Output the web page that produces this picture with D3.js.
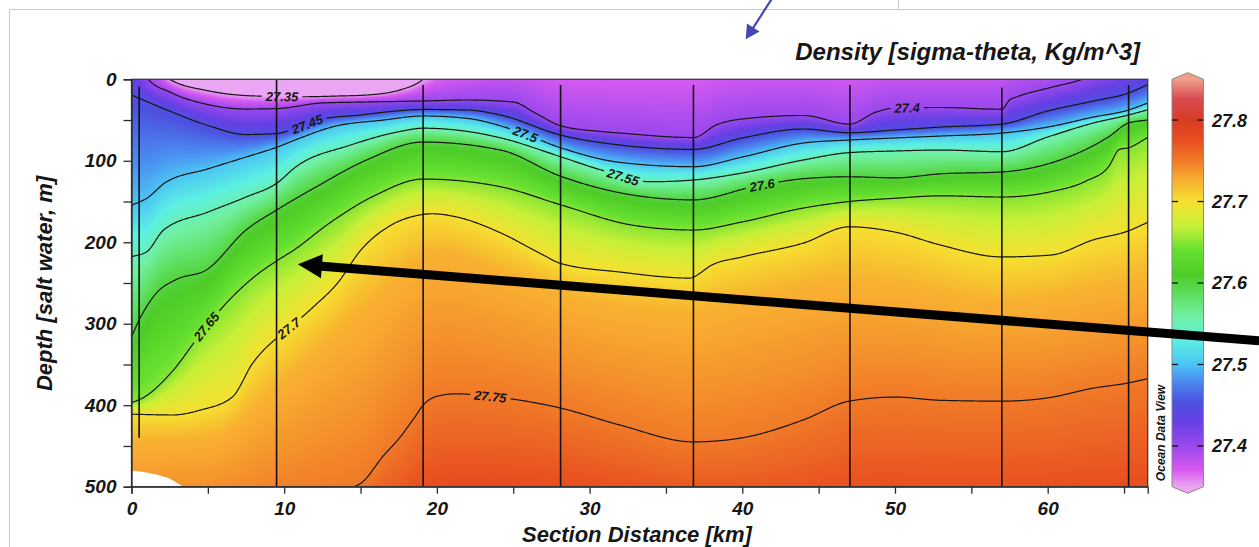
<!DOCTYPE html>
<html>
<head>
<meta charset="utf-8">
<script src="https://cdn.jsdelivr.net/npm/d3@7"></script>
<style>
  html, body { margin: 0; padding: 0; background: #fff; }
  svg { display: block; }
  text { font-family: 'Liberation Sans', Arial, sans-serif; font-weight: bold; font-style: italic; fill: #161616; }
</style>
</head>
<body>
<svg id="chart" width="1259" height="547"></svg>
<script>
// isopycnal depths: [section distance km, depth m]; values above 0 m or below 500 m
// sit outside the section and only shape the gridded field
const sig2730 = [[0, -200], [66.5, -200]];
const sig2735 = [[0, -100], [1.2, -40], [2.5, 0], [5, 14], [7.5, 20], [9.5, 21], [11.4, 21.4], [13.5, 20.5], [15.4, 19.3], [17.6, 13], [18.7, 5], [19.1, 0], [20, -12], [22, -28], [25, -45], [30, -45], [37, -50], [45, -50], [55, -55], [60, -60], [66.5, -90]];
const sig2740 = [[0, -40], [1.1, 0], [2.5, 15.6], [5, 31], [7.5, 36.5], [9.5, 36], [12.5, 29], [15, 28], [19.1, 26.6], [22, 25.4], [25, 27.9], [26.5, 42], [28.1, 57], [30.7, 64], [32, 66], [36.8, 71.5], [38.3, 56], [40, 48.7], [44, 44.4], [47, 55], [48.8, 40], [50, 35.2], [53, 34.6], [57, 36.8], [57.5, 25.4], [58, 21.4], [60, 11], [62.3, 0], [64, -12], [66.5, -30]];
const sig2745 = [[0, 19.3], [2.5, 39], [5, 56.7], [7.5, 67.8], [9.5, 66.5], [11, 58.6], [12.5, 48.7], [15, 43.8], [17, 39.5], [19.1, 37], [22, 37.7], [24.2, 44], [28.1, 68.4], [32, 80.7], [36.8, 86], [40, 72], [44, 61], [47, 65.6], [50, 62.2], [53, 58.6], [57, 54.9], [60, 38.9], [63, 26.6], [65.3, 16.8], [66.5, 7]];
const sig2750 = [[0, 154.6], [1, 146], [2.2, 127], [5, 110], [7.5, 95.4], [9.5, 83.5], [11, 72.4], [13.2, 58.2], [16.5, 50], [19.1, 45], [22, 48], [25, 62], [28.1, 84], [32, 102], [36.8, 107.3], [40, 95.4], [44, 78.2], [47, 74.5], [50, 72], [53, 69.6], [57, 66], [60, 58.6], [63, 46.3], [65.3, 37.7], [66.5, 29.5]];
const sig2755 = [[0, 217.8], [1, 211.7], [2.1, 185], [5, 163], [7.5, 144.5], [9.5, 127.7], [10.8, 107], [14.3, 81], [17.6, 64], [19.1, 60], [22, 64], [24.2, 72], [28.1, 95], [30.7, 111], [34, 125.7], [36.8, 123.6], [40, 115], [44, 99], [47, 90], [50, 88], [53, 86.8], [57, 88.9], [60, 70.8], [63, 53.6], [65.3, 43.8], [66.5, 37.7]];
const sig2760 = [[0, 316], [0.5, 295.5], [1.65, 262], [2.9, 246], [4.9, 234], [7.5, 185], [9.5, 160.5], [12.1, 132], [15.4, 99], [19.1, 77], [24.2, 87], [28.1, 119], [32.8, 142], [36.8, 148], [40.7, 132], [44, 122], [47, 119.6], [50, 121], [53, 116], [57, 113.7], [60.2, 102.8], [64, 70.5], [65.3, 53.6], [66.5, 50]];
const sig2765 = [[0, 397], [0.75, 391], [2.6, 360], [4.7, 308], [6.6, 267], [8.2, 240], [9.5, 223], [10.6, 210], [13, 176], [16, 142], [19.1, 122.4], [24.2, 132], [28.1, 154], [32.8, 179], [36.8, 185], [40, 175], [44, 158], [47, 150], [50, 146], [53, 143], [57, 144.5], [60.2, 138], [62.5, 125], [64, 107], [64.7, 86], [65.3, 84], [66.5, 72]];
const sig2770 = [[0, 411], [2.7, 412], [4.5, 406], [6.6, 390], [7.95, 348], [9.5, 317.6], [10.4, 304], [11.9, 279.5], [13.5, 250], [15, 210], [17, 179], [18.5, 168], [19.7, 165], [21.3, 169], [24.2, 188.7], [26.9, 215], [28.1, 226], [32, 236.6], [36.6, 244], [36.8, 242.7], [38, 228], [40, 218], [44, 201], [47, 181], [50, 187.5], [53, 203.5], [57, 218], [60.2, 215.7], [63, 197], [65.3, 186], [66.5, 176]];
const sig27725 = [[0, 445], [5, 440], [10, 370], [15, 285], [20, 212], [25, 240], [30, 272], [36.8, 285], [40, 270], [47, 248], [50, 252], [57, 272], [63, 258], [66.5, 245]];
const sig2775 = [[0, 545], [5, 538], [10, 520], [13, 508], [15, 496], [16.5, 462], [17.6, 439], [18.5, 416], [19.1, 400], [20, 389], [21.3, 386], [23.4, 389], [25.5, 394], [28.1, 403.5], [32, 424.4], [36.8, 445], [40, 440], [44, 418], [47, 395], [50, 390], [53, 394], [57, 395], [60, 391], [63, 379], [65.3, 372.6], [66.5, 367.7]];
const sig2780 = [[0, 700], [10, 640], [20, 600], [30, 590], [40, 600], [50, 620], [66.5, 620]];

const isoLevels = [27.3, 27.35, 27.4, 27.45, 27.5, 27.55, 27.6, 27.65, 27.7, 27.725, 27.75, 27.8];
const isoDepths = [sig2730, sig2735, sig2740, sig2745, sig2750, sig2755, sig2760, sig2765, sig2770, sig27725, sig2775, sig2780];
const contourLevels = [27.35, 27.4, 27.45, 27.5, 27.55, 27.6, 27.65, 27.7, 27.75];

// contour labels sit on their isopycnal at these distances
const labelLevels = [27.35, 27.4, 27.45, 27.5, 27.55, 27.6, 27.65, 27.7, 27.75];
const labelKm = [9.86, 50.8, 11.5, 25.8, 32.2, 41.3, 4.9, 10.3, 23.5];

// CTD casts: position and sampled depth range
const stationKm = [0.5, 9.5, 19.1, 28.1, 36.8, 47.05, 57.0, 65.3];
const stationTop = [9, 0, 7, 7, 7, 7, 10, 7];
const stationBottom = [440, 500, 500, 500, 500, 500, 500, 500];

// unsampled wedge at the bottom of the first cast
const noDataKm = [0, 0.8, 1.65, 2.5, 3.4];
const noDataDepth = [480, 482, 485, 490, 500];

const xTicks = d3.range(0, 66, 5);
const yTicks = d3.range(0, 501, 50);
const cbTicks = [27.4, 27.5, 27.6, 27.7, 27.8];

// ODV rainbow palette
const paletteVals = [27.35, 27.37, 27.40, 27.43, 27.455, 27.48, 27.50, 27.53, 27.56, 27.585, 27.61, 27.64, 27.67, 27.70, 27.73, 27.75, 27.775, 27.80, 27.825, 27.85];
const paletteColors = ['#eaa6f2', '#d75af0', '#9a48ee', '#6640e4', '#4c52e0', '#4a8cf0', '#4cc4f4', '#5cf0e4', '#70f0a0', '#5ee060', '#4ecc28', '#66e030', '#c8f038', '#f6e030', '#f8a830', '#f07a28', '#e84e20', '#d83c24', '#d84850', '#eea088'];

const svg = d3.select('#chart');
const x = d3.scaleLinear().domain([0, 66.55]).range([131.5, 1147.7]);
const y = d3.scaleLinear().domain([0, 500]).range([79.3, 486.7]);
const cb = d3.scaleLinear().domain([27.35, 27.85]).range([486.7, 79.3]);
const color = d3.scaleLinear().domain(paletteVals).range(paletteColors).clamp(true);

// monotone cubic through one isopycnal's points
function monotone(points) {
  const xs = points.map((p) => p[0]);
  const ys = points.map((p) => p[1]);
  const n = xs.length;
  const h = [];
  const s = [];
  for (let i = 0; i < n - 1; i++) {
    h[i] = xs[i + 1] - xs[i];
    s[i] = (ys[i + 1] - ys[i]) / h[i];
  }
  const t = [s[0]];
  for (let i = 1; i < n - 1; i++) {
    if (s[i - 1] * s[i] <= 0) {
      t[i] = 0;
    } else {
      const p = (s[i - 1] * h[i] + s[i] * h[i - 1]) / (h[i - 1] + h[i]);
      t[i] = Math.sign(s[i]) * Math.min(Math.abs(s[i - 1]), Math.abs(s[i]), 0.5 * Math.abs(p)) * 2;
    }
  }
  t[n - 1] = s[n - 2];
  return (v) => {
    if (v <= xs[0]) return ys[0];
    if (v >= xs[n - 1]) return ys[n - 1];
    const i = Math.min(d3.bisectRight(xs, v) - 1, n - 2);
    const u = (v - xs[i]) / h[i];
    const u2 = u * u;
    const u3 = u2 * u;
    return (2 * u3 - 3 * u2 + 1) * ys[i] + (u3 - 2 * u2 + u) * h[i] * t[i]
      + (-2 * u3 + 3 * u2) * ys[i + 1] + (u3 - u2) * h[i] * t[i + 1];
  };
}

const depthFns = isoDepths.map(monotone);

function isoAt(km) {
  const d = depthFns.map((f) => f(km));
  for (let k = 1; k < d.length; k++) d[k] = Math.max(d[k], d[k - 1] + 0.5);
  return d;
}

// light frame of the page
const frame = svg.append('g').attr('stroke', '#c9c9c9').attr('stroke-width', 1);
frame.append('line').attr('x1', 9.5).attr('x2', 1259).attr('y1', 9.5).attr('y2', 9.5);
frame.append('line').attr('x1', 9.5).attr('x2', 9.5).attr('y1', 9.5).attr('y2', 547);
frame.append('line').attr('x1', 898.5).attr('x2', 898.5).attr('y1', 0).attr('y2', 9.5);

// gridded density field
const [x0, x1] = x.range();
const [y0, y1] = y.range();
const pw = Math.round(x1 - x0);
const ph = Math.round(y1 - y0);
const canvas = document.createElement('canvas');
canvas.width = pw;
canvas.height = ph;
const ctx = canvas.getContext('2d');
const img = ctx.createImageData(pw, ph);
const lut = d3.range(501).map((i) => d3.rgb(color(27.35 + i * 0.001)));
for (let i = 0; i < pw; i++) {
  const d = isoAt(x.invert(x0 + (i + 0.5) * (x1 - x0) / pw));
  let k = 0;
  for (let j = 0; j < ph; j++) {
    const z = y.invert(y0 + (j + 0.5) * (y1 - y0) / ph);
    while (k < d.length - 2 && z > d[k + 1]) k++;
    let v;
    if (z <= d[0]) v = isoLevels[0];
    else if (z >= d[d.length - 1]) v = isoLevels[isoLevels.length - 1];
    else v = isoLevels[k] + (isoLevels[k + 1] - isoLevels[k]) * (z - d[k]) / (d[k + 1] - d[k]);
    const c = lut[Math.max(0, Math.min(500, Math.round((v - 27.35) / 0.001)))];
    const o = (j * pw + i) * 4;
    img.data[o] = c.r;
    img.data[o + 1] = c.g;
    img.data[o + 2] = c.b;
    img.data[o + 3] = 255;
  }
}
ctx.putImageData(img, 0, 0);

svg.append('image')
  .attr('href', canvas.toDataURL())
  .attr('x', x0)
  .attr('y', y0)
  .attr('width', x1 - x0)
  .attr('height', y1 - y0)
  .attr('preserveAspectRatio', 'none');

const noData = noDataKm.map((k, i) => [x(k), y(noDataDepth[i])]);
noData.push([x(0), y(500)]);
svg.append('polygon')
  .attr('points', noData.map((p) => p.join(',')).join(' '))
  .attr('fill', '#fff');

const defs = svg.append('defs');
defs.append('clipPath').attr('id', 'plot-clip')
  .append('rect')
  .attr('x', x0).attr('y', y0)
  .attr('width', x1 - x0).attr('height', y1 - y0);

const mask = defs.append('mask')
  .attr('id', 'label-gaps')
  .attr('maskUnits', 'userSpaceOnUse')
  .attr('x', 0).attr('y', 0).attr('width', 1259).attr('height', 547);
mask.append('rect').attr('width', 1259).attr('height', 547).attr('fill', '#fff');

// isopycnal contours
const samples = d3.range(0, 66.56, 0.05);
const line = d3.line().x((d) => x(d[0])).y((d) => y(d[1]));
const contours = svg.append('g')
  .attr('clip-path', 'url(#plot-clip)')
  .attr('mask', 'url(#label-gaps)')
  .attr('fill', 'none')
  .attr('stroke', '#161616')
  .attr('stroke-width', 1.2);

contourLevels.forEach((lev) => {
  const k = isoLevels.indexOf(lev);
  const pts = samples.map((km) => [km, Math.max(-20, Math.min(520, isoAt(km)[k]))]);
  contours.append('path').attr('d', line(pts));
});

const labels = svg.append('g');
labelLevels.forEach((lev, i) => {
  const k = isoLevels.indexOf(lev);
  const km = labelKm[i];
  const px = x(km);
  const py = y(isoAt(km)[k]);
  const ax = x(km + 0.3) - x(km - 0.3);
  const ay = y(isoAt(km + 0.3)[k]) - y(isoAt(km - 0.3)[k]);
  const angle = Math.atan2(ay, ax) * 180 / Math.PI;
  const t = labels.append('text')
    .attr('transform', `translate(${px},${py}) rotate(${angle})`)
    .attr('text-anchor', 'middle')
    .attr('dy', '0.36em')
    .attr('font-size', 13)
    .text(lev);
  const w = t.node().getComputedTextLength() + 8;
  mask.append('rect')
    .attr('x', -w / 2).attr('y', -7)
    .attr('width', w).attr('height', 14)
    .attr('transform', `translate(${px},${py}) rotate(${angle})`)
    .attr('fill', '#000');
});

// station casts
svg.append('g')
  .attr('stroke', '#111')
  .attr('stroke-width', 1.6)
  .selectAll('line')
  .data(stationKm)
  .join('line')
  .attr('x1', (d) => x(d))
  .attr('x2', (d) => x(d))
  .attr('y1', (d, i) => y(stationTop[i]))
  .attr('y2', (d, i) => y(stationBottom[i]));

svg.append('rect')
  .attr('x', x0).attr('y', y0)
  .attr('width', x1 - x0).attr('height', y1 - y0)
  .attr('fill', 'none')
  .attr('stroke', '#3a3a3a')
  .attr('stroke-width', 1.3);

// axes
const yAxis = svg.append('g')
  .attr('transform', `translate(${x0},0)`)
  .call(d3.axisLeft(y).tickValues(yTicks).tickSize(8).tickPadding(7)
    .tickFormat((d) => (d % 100 === 0 ? d : '')));
const xAxis = svg.append('g')
  .attr('transform', `translate(0,${y1})`)
  .call(d3.axisBottom(x).tickValues(xTicks).tickSize(7).tickPadding(8)
    .tickFormat((d) => (d % 10 === 0 ? d : '')));
[xAxis, yAxis].forEach((g) => {
  g.selectAll('path, line').attr('stroke', '#2a2a2a').attr('stroke-width', 1.3);
  g.selectAll('text')
    .attr('fill', '#161616')
    .attr('font-size', 19)
    .attr('font-family', "'Liberation Sans', Arial, sans-serif")
    .attr('font-weight', 'bold')
    .attr('font-style', 'italic');
});

svg.append('text')
  .attr('x', 637).attr('y', 542)
  .attr('text-anchor', 'middle')
  .attr('font-size', 22)
  .text('Section Distance [km]');

svg.append('text')
  .attr('transform', 'translate(51.5,283.5) rotate(-90)')
  .attr('text-anchor', 'middle')
  .attr('font-size', 22)
  .text('Depth [salt water, m]');

svg.append('text')
  .attr('x', 1140).attr('y', 60)
  .attr('text-anchor', 'end')
  .attr('font-size', 24)
  .text('Density [sigma-theta, Kg/m^3]');

svg.append('text')
  .attr('transform', 'translate(1165,433) rotate(-90)')
  .attr('text-anchor', 'middle')
  .attr('font-size', 12)
  .text('Ocean Data View');

// colour bar
const cbL = 1172;
const cbR = 1203.5;
const cbMid = (cbL + cbR) / 2;
const cap = 6.6;
const grad = defs.append('linearGradient')
  .attr('id', 'cb-grad')
  .attr('gradientUnits', 'userSpaceOnUse')
  .attr('x1', 0).attr('x2', 0)
  .attr('y1', cb(27.85) - cap).attr('y2', cb(27.35) + cap);
const gTop = cb(27.85) - cap;
const gSpan = cb(27.35) + cap - gTop;
paletteVals.slice().reverse().forEach((v) => {
  grad.append('stop')
    .attr('offset', (cb(v) - gTop) / gSpan)
    .attr('stop-color', color(v));
});
svg.append('polygon')
  .attr('points', [
    [cbL, cb(27.85)], [cbMid, cb(27.85) - cap], [cbR, cb(27.85)],
    [cbR, cb(27.35)], [cbMid, cb(27.35) + cap], [cbL, cb(27.35)],
  ].map((p) => p.join(',')).join(' '))
  .attr('fill', 'url(#cb-grad)')
  .attr('stroke', '#8a8a8a')
  .attr('stroke-width', 1);

const cbTick = svg.append('g').selectAll('g').data(cbTicks).join('g')
  .attr('transform', (d) => `translate(0,${cb(d)})`);
cbTick.append('line').attr('x1', cbL).attr('x2', cbL + 6).attr('stroke', '#111').attr('stroke-width', 1.3);
cbTick.append('line').attr('x1', cbR - 6).attr('x2', cbR).attr('stroke', '#111').attr('stroke-width', 1.3);
cbTick.append('text')
  .attr('x', 1212)
  .attr('dy', '0.36em')
  .attr('font-size', 18)
  .text((d) => d.toFixed(1));

// annotation arrows
function arrowShape(p1, p2, shaft, headLen, headHalf) {
  const dx = p2[0] - p1[0];
  const dy = p2[1] - p1[1];
  const len = Math.hypot(dx, dy);
  const ux = dx / len;
  const uy = dy / len;
  const nx = -uy;
  const ny = ux;
  const bx = p2[0] - ux * headLen;
  const by = p2[1] - uy * headLen;
  const s = shaft / 2;
  return [
    [p1[0] + nx * s, p1[1] + ny * s],
    [bx + nx * s, by + ny * s],
    [bx + nx * headHalf, by + ny * headHalf],
    p2,
    [bx - nx * headHalf, by - ny * headHalf],
    [bx - nx * s, by - ny * s],
    [p1[0] - nx * s, p1[1] - ny * s],
  ];
}

const arrowFrom = [73.85, 321];
const arrowTo = [10.9, 227];
svg.append('polygon')
  .attr('points', arrowShape([x(arrowFrom[0]), y(arrowFrom[1])], [x(arrowTo[0]), y(arrowTo[1])], 9, 24, 12)
    .map((p) => p.join(',')).join(' '))
  .attr('fill', '#000');

svg.append('polygon')
  .attr('points', arrowShape([771.7, -1], [745.7, 39.3], 2.2, 14, 7.5).map((p) => p.join(',')).join(' '))
  .attr('fill', '#4347b3');
</script>
</body>
</html>
